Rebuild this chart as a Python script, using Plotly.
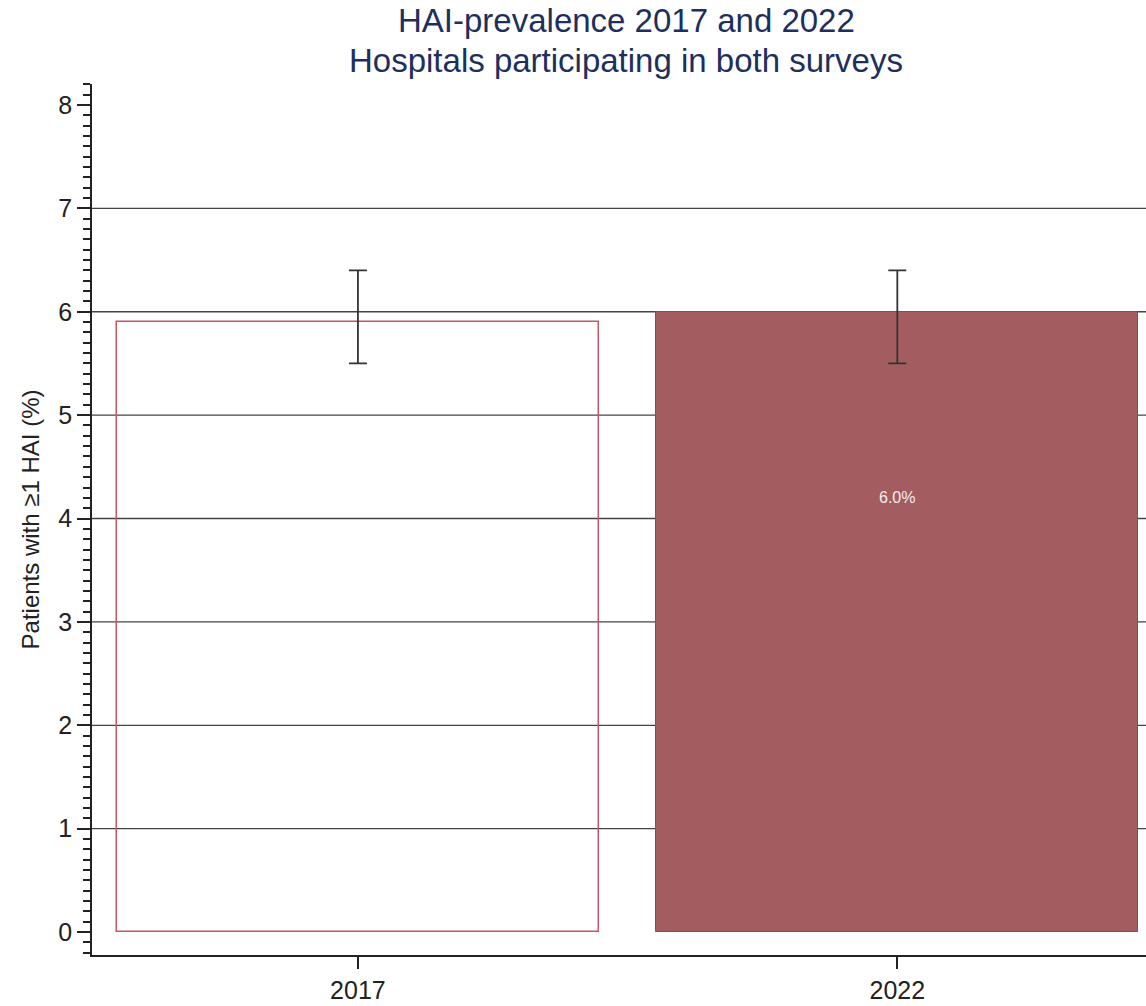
import plotly.graph_objects as go

# ---- data ----
years = ["2017", "2022"]
prevalence = [5.9, 6.0]
ci_low = [5.5, 5.5]
ci_high = [6.4, 6.4]
y_ticks = [0, 1, 2, 3, 4, 5, 6, 7, 8]
grid_values = [1, 2, 3, 4, 5, 6, 7]
title_lines = ["HAI-prevalence 2017 and 2022", "Hospitals participating in both surveys"]

FONT = "Liberation Sans, Arial, Helvetica, sans-serif"
BAR_COLOR = "#A35C60"
TITLE_COLOR = "#1E2F5E"

W, H = 1146, 1006
M_L, M_R, M_T, M_B = 92, 0, 84, 51
plot_w = W - M_L - M_R
plot_h = H - M_T - M_B


def px_to_paper_x(px):
    return (px - M_L) / plot_w


def px_to_paper_y(py):
    return (H - M_B - py) / plot_h


err_plus = [h - v for h, v in zip(ci_high, prevalence)]
err_minus = [v - l for l, v in zip(ci_low, prevalence)]

fig = go.Figure()

# 2017: hollow bar with red outline
fig.add_trace(go.Bar(
    x=[years[0]], y=[prevalence[0]],
    width=0.893,
    marker=dict(color="rgba(0,0,0,0)", line=dict(color="#C85666", width=1.5)),
    error_y=dict(type="data", symmetric=False, array=[err_plus[0]], arrayminus=[err_minus[0]],
                 color="#333333", thickness=1.8, width=9),
    showlegend=False,
))

# 2022: filled bar
fig.add_trace(go.Bar(
    x=[years[1]], y=[prevalence[1]],
    width=0.893,
    marker=dict(color=BAR_COLOR, line=dict(color="#95454D", width=1)),
    error_y=dict(type="data", symmetric=False, array=[err_plus[1]], arrayminus=[err_minus[1]],
                 color="#333333", thickness=1.8, width=9),
    showlegend=False,
))

shapes = []
for g in grid_values:
    shapes.append(dict(type="line", xref="paper", yref="y", x0=0, x1=1, y0=g, y1=g,
                       line=dict(color="#444444", width=1.3), layer="below"))

annotations = [
    dict(x=1, y=prevalence[1] * 0.7, xref="x", yref="y",
         text=f"{prevalence[1]:.1f}%", showarrow=False,
         font=dict(family=FONT, size=16, color="#F4ECEC")),
    dict(x=px_to_paper_x(626), y=px_to_paper_y(21), xref="paper", yref="paper",
         xanchor="center", yanchor="middle",
         text=title_lines[0], showarrow=False,
         font=dict(family=FONT, size=33, color=TITLE_COLOR)),
    dict(x=px_to_paper_x(626), y=px_to_paper_y(60), xref="paper", yref="paper",
         xanchor="center", yanchor="middle",
         text=title_lines[1], showarrow=False,
         font=dict(family=FONT, size=33, color=TITLE_COLOR)),
]

fig.update_layout(
    width=W, height=H,
    margin=dict(l=M_L, r=M_R, t=M_T, b=M_B),
    paper_bgcolor="white", plot_bgcolor="white",
    font=dict(family=FONT, color="#222222"),
    shapes=shapes,
    annotations=annotations,
    bargap=0,
)

fig.update_xaxes(
    type="category", range=[-0.493, 1.461],
    showline=True, linecolor="#222222", linewidth=1.5,
    ticks="outside", ticklen=12, tickwidth=1.5, tickcolor="#222222",
    tickfont=dict(family=FONT, size=25, color="#222222"),
    showgrid=False, zeroline=False,
)

fig.update_yaxes(
    range=[-0.222, 8.203],
    tickvals=y_ticks,
    showline=True, linecolor="#222222", linewidth=1.5,
    ticks="outside", ticklen=13, tickwidth=1.5, tickcolor="#222222",
    tickfont=dict(family=FONT, size=25, color="#222222"),
    minor=dict(ticks="outside", dtick=0.1, ticklen=7, tickwidth=1.5, tickcolor="#222222", showgrid=False),
    showgrid=False, zeroline=False,
    title=dict(text="Patients with ≥1 HAI (%)", font=dict(family=FONT, size=24, color="#222222"), standoff=12),
)

fig.write_html("out.html")
